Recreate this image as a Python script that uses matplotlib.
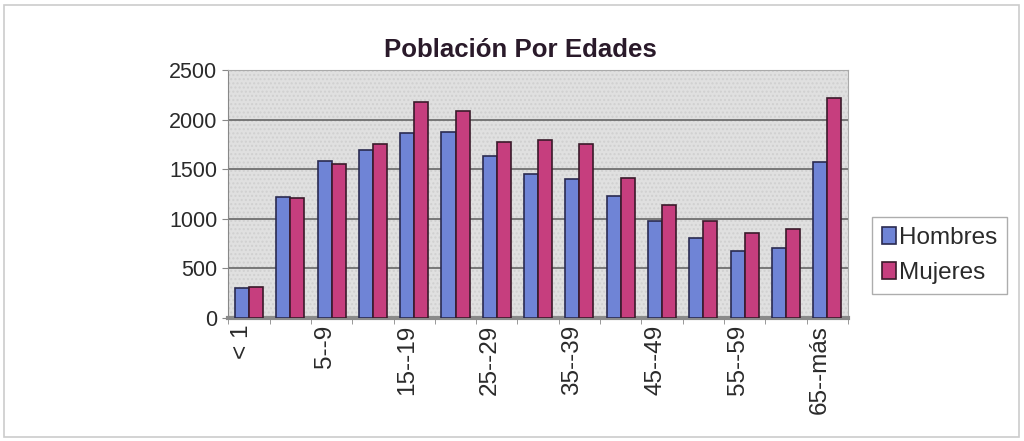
import matplotlib.pyplot as plt
import matplotlib.patches as patches
import matplotlib.transforms as mtransforms
import numpy as np

# Age groups and population counts
edades = ['< 1', '1--4', '5--9', '10--14', '15--19', '20--24', '25--29', '30--34',
          '35--39', '40--44', '45--49', '50--54', '55--59', '60--64', '65--más']
hombres = [300, 1220, 1585, 1690, 1870, 1875, 1635, 1450, 1400, 1230, 975, 805, 675, 705, 1570]
mujeres = [315, 1210, 1550, 1750, 2175, 2085, 1775, 1795, 1750, 1415, 1135, 975, 860, 895, 2220]

c_h = '#6f84d6'
c_m = '#c63e7e'

fig = plt.figure(figsize=(10.24, 4.41), dpi=100)
ax = fig.add_axes([0.223, 0.279, 0.605, 0.562])
ax.set_facecolor('#e0e0e0')
# stippled wall, like the original fill
ax.add_patch(patches.Rectangle((0, 0), 1, 1, transform=ax.transAxes, facecolor='none',
                               edgecolor='#d0d0d0', hatch='....', linewidth=0, zorder=0.5))

x = np.arange(len(edades))
w = 0.34
ax.bar(x - w / 2, hombres, w, color=c_h, edgecolor='#2a2a50', linewidth=1.2, label='Hombres', zorder=3)
ax.bar(x + w / 2, mujeres, w, color=c_m, edgecolor='#3a1a2a', linewidth=1.2, label='Mujeres', zorder=3)

ax.set_xlim(-0.5, len(edades) - 0.5)
ax.set_ylim(0, 2500)
ax.set_yticks(range(0, 2501, 500))
ax.yaxis.grid(True, color='#666666', linewidth=1.2, zorder=1)
ax.set_axisbelow(True)

ax.set_xticks(x[::2])
ax.set_xticklabels(edades[::2], rotation=90, fontsize=17.5, fontname='Liberation Sans', color='#2a2a2a')
ax.set_xticks(np.arange(-0.5, len(edades), 1), minor=True)
ax.tick_params(axis='x', which='major', length=0, pad=5)
ax.tick_params(axis='x', which='minor', length=4, color='#888888')
# labels sit a little left of the bars, as in the 3-D original
shift = mtransforms.ScaledTranslation(-7 / 100, 0, fig.dpi_scale_trans)
for lab in ax.get_xticklabels():
    lab.set_transform(lab.get_transform() + shift)
for lab in ax.get_yticklabels():
    lab.set_fontsize(15.5)
    lab.set_fontname('Liberation Sans')
    lab.set_color('#2a2a2a')
ax.tick_params(axis='y', length=4, color='#888888', pad=4)

for s in ['top', 'right']:
    ax.spines[s].set_color('#aaaaaa')
ax.spines['left'].set_color('#888888')
ax.spines['bottom'].set_color('#8a8a8a')
ax.spines['bottom'].set_linewidth(3)

fig.text(0.508, 0.886, 'Población Por Edades', ha='center', va='center',
         fontsize=18.6, fontweight='bold', fontname='Liberation Sans', color='#2a1a2a')

leg = fig.legend(loc='center left', bbox_to_anchor=(0.852, 0.42), borderaxespad=0,
                 prop={'family': 'Liberation Sans', 'size': 17.5},
                 handlelength=0.55, handleheight=0.7, handletextpad=0.15,
                 borderpad=0.4, labelspacing=0.55, fancybox=False, edgecolor='#999999')
leg.get_frame().set_linewidth(1.0)
for t in leg.get_texts():
    t.set_color('#2a2a2a')

# outer chart frame
fig.patches.append(patches.Rectangle((0.004, 0.01), 0.991, 0.978, transform=fig.transFigure,
                                     fill=False, edgecolor='#cccccc', linewidth=1.2))

fig.savefig('out.png', dpi=100)
